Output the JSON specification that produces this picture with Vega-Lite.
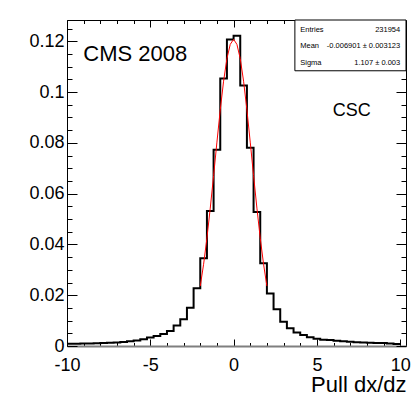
{
  "$schema": "https://vega.github.io/schema/vega-lite/v6.json",
  "width": 339,
  "height": 326,
  "autosize": {"type": "none"},
  "padding": {"left": 67, "top": 20, "right": 9, "bottom": 53},
  "background": "white",
  "config": {
    "view": {"stroke": "black", "strokeWidth": 1},
    "font": "Liberation Sans"
  },
  "datasets": {
    "hist": [
      {"lo": -10, "hi": -9.6, "v": 0.0009},
      {"lo": -9.6, "hi": -9.2, "v": 0.0009},
      {"lo": -9.2, "hi": -8.8, "v": 0.0010},
      {"lo": -8.8, "hi": -8.4, "v": 0.0010},
      {"lo": -8.4, "hi": -8.0, "v": 0.0011},
      {"lo": -8.0, "hi": -7.6, "v": 0.0012},
      {"lo": -7.6, "hi": -7.2, "v": 0.0013},
      {"lo": -7.2, "hi": -6.8, "v": 0.0014},
      {"lo": -6.8, "hi": -6.4, "v": 0.0016},
      {"lo": -6.4, "hi": -6.0, "v": 0.0019},
      {"lo": -6.0, "hi": -5.6, "v": 0.0022},
      {"lo": -5.6, "hi": -5.2, "v": 0.0027},
      {"lo": -5.2, "hi": -4.8, "v": 0.0033},
      {"lo": -4.8, "hi": -4.4, "v": 0.0039},
      {"lo": -4.4, "hi": -4.0, "v": 0.0047},
      {"lo": -4.0, "hi": -3.6, "v": 0.0059},
      {"lo": -3.6, "hi": -3.2, "v": 0.0081},
      {"lo": -3.2, "hi": -2.8, "v": 0.0105},
      {"lo": -2.8, "hi": -2.4, "v": 0.0151},
      {"lo": -2.4, "hi": -2.0, "v": 0.0227},
      {"lo": -2.0, "hi": -1.6, "v": 0.0346},
      {"lo": -1.6, "hi": -1.2, "v": 0.0532},
      {"lo": -1.2, "hi": -0.8, "v": 0.0773},
      {"lo": -0.8, "hi": -0.4, "v": 0.1054},
      {"lo": -0.4, "hi": 0.0, "v": 0.1207},
      {"lo": 0.0, "hi": 0.4, "v": 0.1222},
      {"lo": 0.4, "hi": 0.8, "v": 0.1026},
      {"lo": 0.8, "hi": 1.2, "v": 0.0781},
      {"lo": 1.2, "hi": 1.6, "v": 0.0528},
      {"lo": 1.6, "hi": 2.0, "v": 0.0326},
      {"lo": 2.0, "hi": 2.4, "v": 0.0207},
      {"lo": 2.4, "hi": 2.8, "v": 0.0145},
      {"lo": 2.8, "hi": 3.2, "v": 0.0096},
      {"lo": 3.2, "hi": 3.6, "v": 0.0070},
      {"lo": 3.6, "hi": 4.0, "v": 0.0053},
      {"lo": 4.0, "hi": 4.4, "v": 0.0043},
      {"lo": 4.4, "hi": 4.8, "v": 0.0034},
      {"lo": 4.8, "hi": 5.2, "v": 0.0029},
      {"lo": 5.2, "hi": 5.6, "v": 0.0025},
      {"lo": 5.6, "hi": 6.0, "v": 0.0024},
      {"lo": 6.0, "hi": 6.4, "v": 0.0021},
      {"lo": 6.4, "hi": 6.8, "v": 0.0019},
      {"lo": 6.8, "hi": 7.2, "v": 0.0017},
      {"lo": 7.2, "hi": 7.6, "v": 0.0015},
      {"lo": 7.6, "hi": 8.0, "v": 0.0014},
      {"lo": 8.0, "hi": 8.4, "v": 0.0013},
      {"lo": 8.4, "hi": 8.8, "v": 0.0012},
      {"lo": 8.8, "hi": 9.2, "v": 0.0012},
      {"lo": 9.2, "hi": 9.6, "v": 0.0010},
      {"lo": 9.6, "hi": 10.0, "v": 0.0008}
    ],
    "fit": [
      {"fx": -2.0, "fy": 0.0236},
      {"fx": -1.8, "fy": 0.0322},
      {"fx": -1.6, "fy": 0.0425},
      {"fx": -1.4, "fy": 0.0543},
      {"fx": -1.2, "fy": 0.0671},
      {"fx": -1.0, "fy": 0.0803},
      {"fx": -0.8, "fy": 0.0930},
      {"fx": -0.6, "fy": 0.1043},
      {"fx": -0.4, "fy": 0.1132},
      {"fx": -0.2, "fy": 0.1188},
      {"fx": 0.0, "fy": 0.1208},
      {"fx": 0.2, "fy": 0.1188},
      {"fx": 0.4, "fy": 0.1132},
      {"fx": 0.6, "fy": 0.1043},
      {"fx": 0.8, "fy": 0.0930},
      {"fx": 1.0, "fy": 0.0803},
      {"fx": 1.2, "fy": 0.0671},
      {"fx": 1.4, "fy": 0.0543},
      {"fx": 1.6, "fy": 0.0425},
      {"fx": 1.8, "fy": 0.0322},
      {"fx": 2.0, "fy": 0.0236}
    ]
  },
  "layer": [
    {
      "data": {"name": "hist"},
      "transform": [{"fold": ["lo", "hi"], "as": ["edge", "xe"]}],
      "mark": {"type": "line", "color": "black", "strokeWidth": 2, "strokeJoin": "miter", "clip": true},
      "encoding": {
        "x": {
          "field": "xe", "type": "quantitative",
          "scale": {"domain": [-10, 10.35], "nice": false, "zero": false},
          "axis": {
            "orient": "bottom",
            "values": [-10,-9,-8,-7,-6,-5,-4,-3,-2,-1,0,1,2,3,4,5,6,7,8,9,10],
            "tickSize": {"condition": {"test": "datum.value % 5 === 0", "value": -7}, "value": -3.5},
            "tickColor": "black", "tickWidth": 1,
            "domainColor": "#7f7f7f", "domainWidth": 2,
            "labelExpr": "datum.value % 5 === 0 ? '' + datum.value : ''",
            "labelFont": "Liberation Sans", "labelFontSize": 18, "labelColor": "black",
            "labelPadding": 17, "labelFlush": false, "labelOverlap": false, "labelBound": false,
            "grid": false,
            "title": "Pull dx/dz", "titleFont": "Liberation Sans", "titleFontSize": 22,
            "titleFontWeight": "normal", "titleColor": "black", "titleAnchor": "end", "titlePadding": -3
          }
        },
        "y": {
          "field": "v", "type": "quantitative",
          "scale": {"domain": [0, 0.1284], "nice": false, "zero": false},
          "axis": {
            "orient": "left",
            "values": [0,0.005,0.01,0.015,0.02,0.025,0.03,0.035,0.04,0.045,0.05,0.055,0.06,0.065,0.07,0.075,0.08,0.085,0.09,0.095,0.1,0.105,0.11,0.115,0.12,0.125],
            "tickSize": {"condition": {"test": "abs(datum.value*50 - round(datum.value*50)) < 0.001", "value": -10}, "value": -5},
            "tickColor": "black", "tickWidth": 1,
            "domainColor": "black", "domainWidth": 1,
            "labelExpr": "abs(datum.value*50 - round(datum.value*50)) < 0.001 ? '' + datum.value : ''",
            "labelFont": "Liberation Sans", "labelFontSize": 18, "labelColor": "black",
            "labelPadding": 13, "labelOverlap": false, "labelBound": false, "labelFlush": false,
            "grid": false, "title": null
          }
        },
        "order": {"value": null}
      }
    },
    {
      "data": {"name": "fit"},
      "mark": {"type": "line", "color": "#ff0000", "strokeWidth": 1},
      "encoding": {
        "x": {
          "field": "fx", "type": "quantitative",
          "scale": {"domain": [-10, 10.35], "nice": false, "zero": false},
          "axis": {
            "orient": "top",
            "values": [-10,-9,-8,-7,-6,-5,-4,-3,-2,-1,0,1,2,3,4,5,6,7,8,9,10],
            "tickSize": {"condition": {"test": "datum.value % 5 === 0", "value": -7}, "value": -3.5},
            "tickColor": "black", "tickWidth": 1,
            "domain": false, "labels": false, "grid": false, "title": null
          }
        },
        "y": {
          "field": "fy", "type": "quantitative",
          "scale": {"domain": [0, 0.1284], "nice": false, "zero": false},
          "axis": {
            "orient": "right",
            "values": [0,0.005,0.01,0.015,0.02,0.025,0.03,0.035,0.04,0.045,0.05,0.055,0.06,0.065,0.07,0.075,0.08,0.085,0.09,0.095,0.1,0.105,0.11,0.115,0.12,0.125],
            "tickSize": {"condition": {"test": "abs(datum.value*50 - round(datum.value*50)) < 0.001", "value": -10}, "value": -5},
            "tickColor": "black", "tickWidth": 1,
            "domain": false, "labels": false, "grid": false, "title": null
          }
        }
      }
    },
    {
      "data": {"values": [{}]},
      "mark": {"type": "rect", "fill": "white", "stroke": "black", "strokeWidth": 1},
      "encoding": {
        "x": {"datum": 3.68, "type": "quantitative", "axis": null},
        "x2": {"datum": 10.35},
        "y": {"datum": 0.1284, "type": "quantitative", "axis": null},
        "y2": {"datum": 0.1084}
      }
    },
    {
      "data": {"values": [{}]},
      "mark": {"type": "text", "font": "Liberation Sans", "fontSize": 22, "align": "left", "baseline": "alphabetic", "color": "black"},
      "encoding": {
        "x": {"datum": -9.02, "type": "quantitative", "axis": null},
        "y": {"datum": 0.1121, "type": "quantitative", "axis": null},
        "text": {"value": "CMS 2008"}
      }
    },
    {
      "data": {"values": [{}]},
      "mark": {"type": "text", "font": "Liberation Sans", "fontSize": 18, "align": "left", "baseline": "alphabetic", "color": "black"},
      "encoding": {
        "x": {"datum": 5.96, "type": "quantitative", "axis": null},
        "y": {"datum": 0.0905, "type": "quantitative", "axis": null},
        "text": {"value": "CSC"}
      }
    },
    {
      "data": {"values": [{}]},
      "mark": {"type": "text", "font": "Liberation Sans", "fontSize": 7.5, "align": "left", "baseline": "middle", "color": "black"},
      "encoding": {
        "x": {"datum": 4.0, "type": "quantitative", "axis": null},
        "y": {"datum": 0.1246, "type": "quantitative", "axis": null},
        "text": {"value": "Entries"}
      }
    },
    {
      "data": {"values": [{}]},
      "mark": {"type": "text", "font": "Liberation Sans", "fontSize": 7.5, "align": "right", "baseline": "middle", "color": "black"},
      "encoding": {
        "x": {"datum": 10.0, "type": "quantitative", "axis": null},
        "y": {"datum": 0.1246, "type": "quantitative", "axis": null},
        "text": {"value": "231954"}
      }
    },
    {
      "data": {"values": [{}]},
      "mark": {"type": "text", "font": "Liberation Sans", "fontSize": 7.5, "align": "left", "baseline": "middle", "color": "black"},
      "encoding": {
        "x": {"datum": 4.0, "type": "quantitative", "axis": null},
        "y": {"datum": 0.1183, "type": "quantitative", "axis": null},
        "text": {"value": "Mean"}
      }
    },
    {
      "data": {"values": [{}]},
      "mark": {"type": "text", "font": "Liberation Sans", "fontSize": 7.5, "align": "right", "baseline": "middle", "color": "black"},
      "encoding": {
        "x": {"datum": 10.0, "type": "quantitative", "axis": null},
        "y": {"datum": 0.1183, "type": "quantitative", "axis": null},
        "text": {"value": "-0.006901 ± 0.003123"}
      }
    },
    {
      "data": {"values": [{}]},
      "mark": {"type": "text", "font": "Liberation Sans", "fontSize": 7.5, "align": "left", "baseline": "middle", "color": "black"},
      "encoding": {
        "x": {"datum": 4.0, "type": "quantitative", "axis": null},
        "y": {"datum": 0.1115, "type": "quantitative", "axis": null},
        "text": {"value": "Sigma"}
      }
    },
    {
      "data": {"values": [{}]},
      "mark": {"type": "text", "font": "Liberation Sans", "fontSize": 7.5, "align": "right", "baseline": "middle", "color": "black"},
      "encoding": {
        "x": {"datum": 10.0, "type": "quantitative", "axis": null},
        "y": {"datum": 0.1115, "type": "quantitative", "axis": null},
        "text": {"value": "1.107 ± 0.003"}
      }
    }
  ],
  "resolve": {"axis": {"x": "independent", "y": "independent"}}
}
